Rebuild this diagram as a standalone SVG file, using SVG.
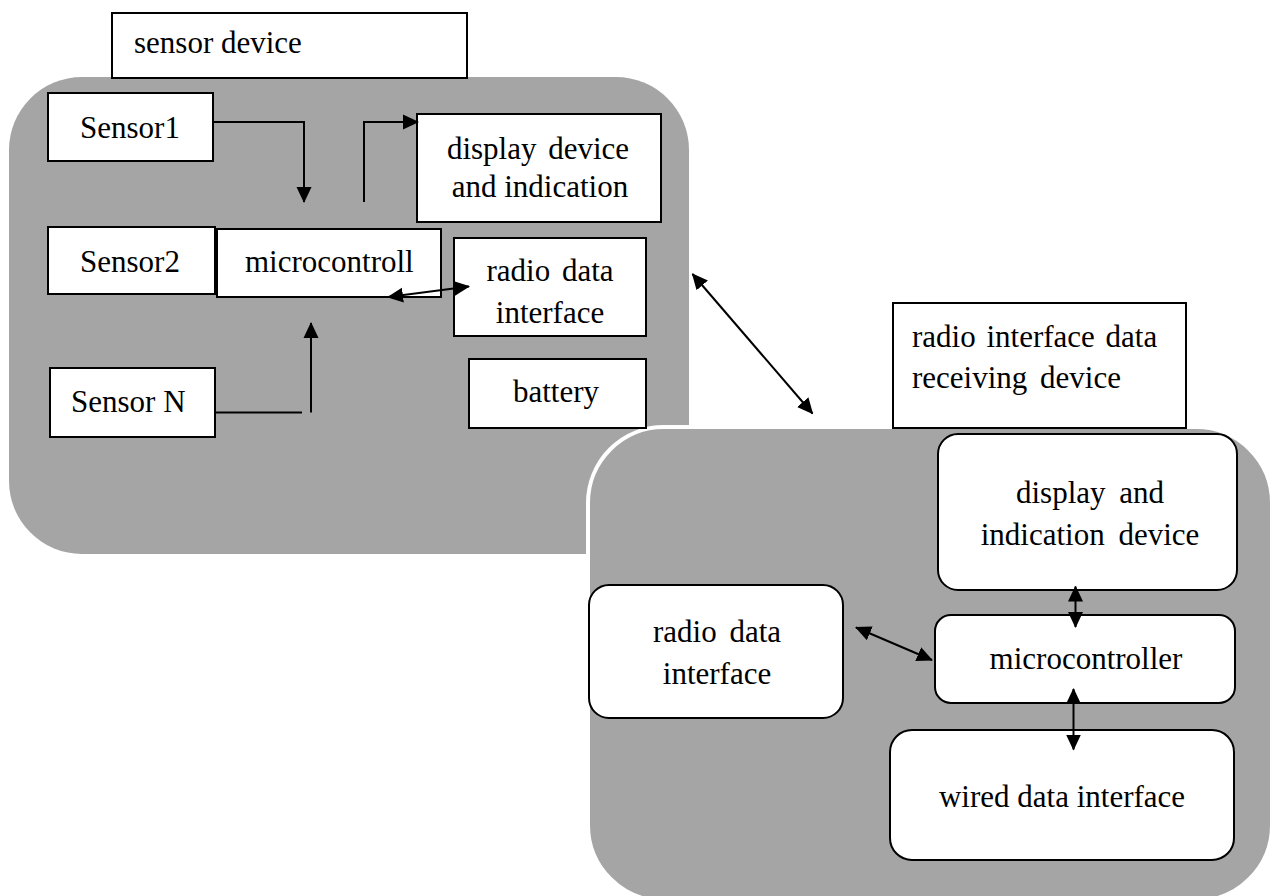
<svg xmlns="http://www.w3.org/2000/svg" width="1276" height="896" viewBox="0 0 1276 896">
<style>
  .panel { fill: #a5a5a5; }
  .box { fill: #ffffff; stroke: #000000; stroke-width: 2; }
  .rbox { fill: #ffffff; stroke: #000000; stroke-width: 2; }
  .t { font-family: "Liberation Serif", "Times New Roman", serif; font-size: 31px; fill: #000000; }
  .c { text-anchor: middle; }
  .ln { fill: none; stroke: #000000; stroke-width: 2; }
</style>
<defs>
  <marker id="ah" markerUnits="userSpaceOnUse" markerWidth="16" markerHeight="16" viewBox="0 0 16 16" refX="15" refY="8" orient="auto-start-reverse">
    <path d="M0,0.5 L16,8 L0,15.5 z" fill="#000000"/>
  </marker>
</defs>

<rect width="1276" height="896" fill="#ffffff"/>

<g id="sensor-device-panel">
  <rect class="panel" x="9" y="77" width="680" height="477" rx="73" ry="73"/>
</g>
<g id="receiver-panel">
  <rect class="panel" x="588" y="427" width="684" height="474" rx="76" ry="76" stroke="#ffffff" stroke-width="4"/>
</g>

<g id="sensor-device-label">
  <rect class="box" x="112" y="13" width="355" height="65"/>
  <text class="t" x="134" y="53">sensor device</text>
</g>
<g id="sensor1">
  <rect class="box" x="48" y="93" width="165" height="68"/>
  <text class="t" x="80" y="138">Sensor1</text>
</g>
<g id="display-device">
  <rect class="box" x="417" y="114" width="244" height="108"/>
  <text class="t c" x="538" y="159" word-spacing="4">display device</text>
  <text class="t c" x="540" y="197">and indication</text>
</g>
<g id="sensor2">
  <rect class="box" x="48" y="227" width="167" height="67"/>
  <text class="t" x="80" y="272">Sensor2</text>
</g>
<g id="microcontroll">
  <rect class="box" x="217" y="229" width="224" height="68"/>
  <text class="t" x="245" y="272">microcontroll</text>
</g>
<g id="radio-data-interface-1">
  <rect class="box" x="454" y="238" width="192" height="98"/>
  <text class="t c" x="550" y="281" word-spacing="4">radio data</text>
  <text class="t c" x="550" y="323">interface</text>
</g>
<g id="battery">
  <rect class="box" x="469" y="359" width="177" height="69"/>
  <text class="t c" x="556" y="402">battery</text>
</g>
<g id="sensorN">
  <rect class="box" x="50" y="368" width="165" height="69"/>
  <text class="t" x="71" y="412">Sensor N</text>
</g>

<g id="receiver-label">
  <rect class="box" x="893" y="303" width="293" height="125"/>
  <text class="t" x="912" y="347" word-spacing="3">radio interface data</text>
  <text class="t" x="912" y="388" word-spacing="5">receiving device</text>
</g>
<g id="display-indication">
  <rect class="rbox" x="938" y="434" width="299" height="156" rx="20" ry="20"/>
  <text class="t c" x="1090" y="503" word-spacing="6">display and</text>
  <text class="t c" x="1090" y="545" word-spacing="6">indication device</text>
</g>
<g id="radio-data-interface-2">
  <rect class="rbox" x="589" y="585" width="254" height="133" rx="20" ry="20"/>
  <text class="t c" x="717" y="642" word-spacing="5">radio data</text>
  <text class="t c" x="717" y="684">interface</text>
</g>
<g id="microcontroller">
  <rect class="rbox" x="935" y="615" width="300" height="88" rx="16" ry="16"/>
  <text class="t c" x="1086" y="669">microcontroller</text>
</g>
<g id="wired-data-interface">
  <rect class="rbox" x="890" y="730" width="344" height="130" rx="22" ry="22"/>
  <text class="t c" x="1062" y="807">wired data interface</text>
</g>

<g id="connectors">
  <path class="ln" d="M213,122 L304,122 L304,202" marker-end="url(#ah)"/>
  <path class="ln" d="M364,202 L364,122 L418,122" marker-end="url(#ah)"/>
  <path class="ln" d="M215,412.5 L302,412.5"/>
  <path class="ln" d="M311,412.5 L311,323" marker-end="url(#ah)"/>
  <path class="ln" d="M388,297 L469,286.5" marker-start="url(#ah)" marker-end="url(#ah)"/>
  <path class="ln" d="M692.5,274 L812.5,413.5" marker-start="url(#ah)" marker-end="url(#ah)"/>
  <path class="ln" d="M1075.5,586.5 L1075.5,627" marker-start="url(#ah)" marker-end="url(#ah)"/>
  <path class="ln" d="M856,627.5 L932,660" marker-start="url(#ah)" marker-end="url(#ah)"/>
  <path class="ln" d="M1073.5,689 L1073.5,749.5" marker-start="url(#ah)" marker-end="url(#ah)"/>
</g>
</svg>
